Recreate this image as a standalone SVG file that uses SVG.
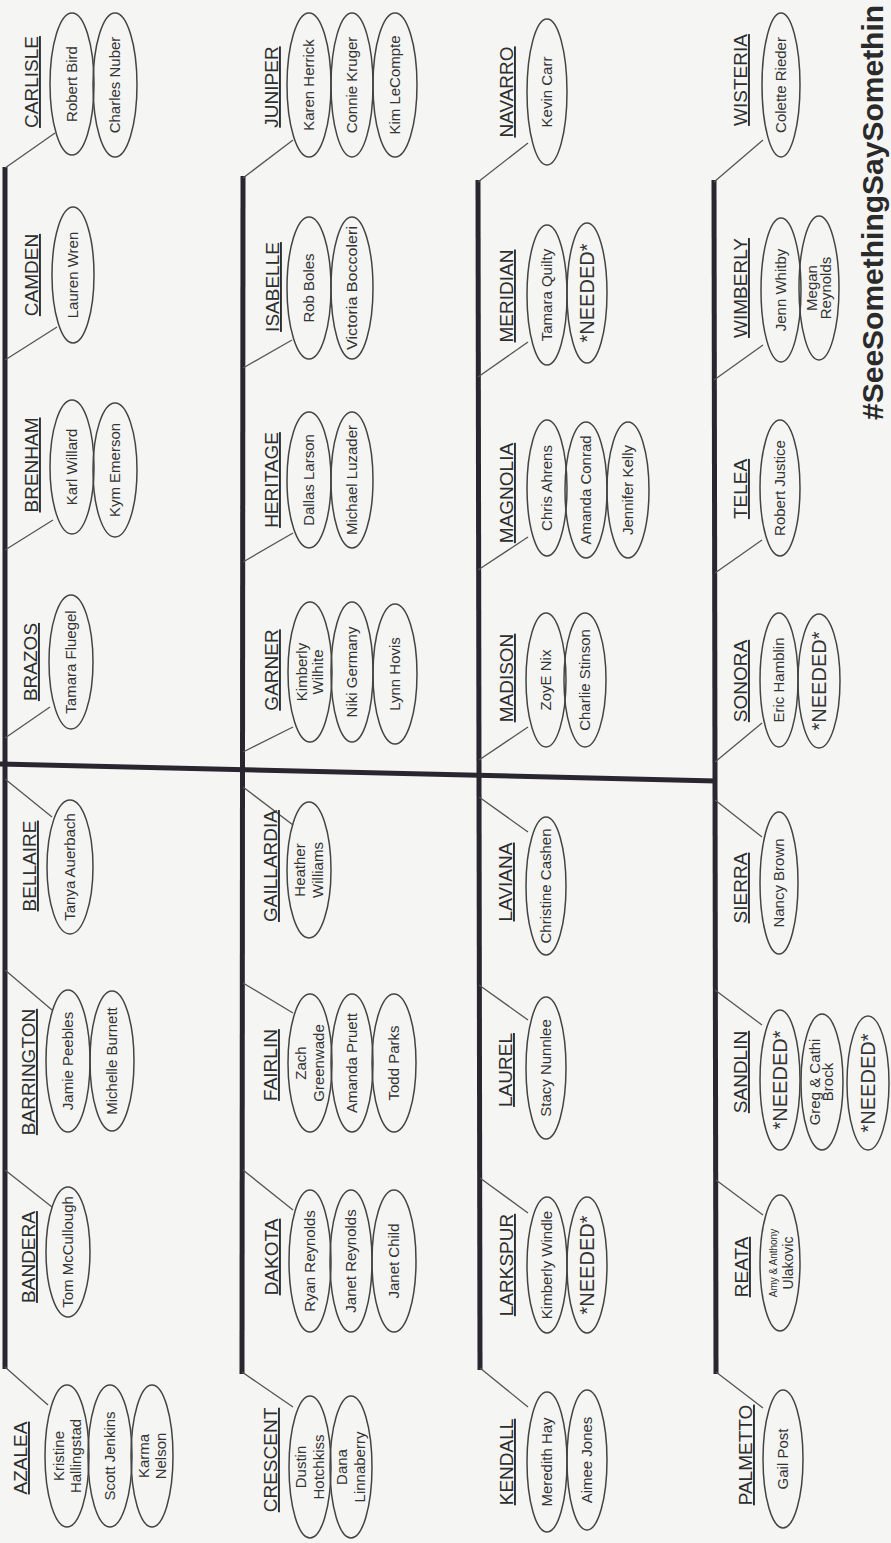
<svg xmlns="http://www.w3.org/2000/svg" width="891" height="1543" viewBox="0 0 891 1543">
<style>
.bg{fill:#f5f5f3}
.lbl{font-family:"Liberation Sans",Arial,sans-serif;font-size:19px;fill:#2e2e2e;text-decoration:underline;text-anchor:middle}
.nm{font-family:"Liberation Sans",Arial,sans-serif;font-size:15px;fill:#333;text-anchor:middle}
.nd{font-size:20px}
.el{fill:none;stroke:#444;stroke-width:1.5}
.sp{stroke:#2a2630;stroke-width:5;fill:none}
.cn{stroke:#555;stroke-width:1.3;fill:none}
.tag{font-family:"Liberation Sans",Arial,sans-serif;font-size:30px;font-weight:bold;fill:#2a2a2a}
</style>
<rect class="bg" x="0" y="0" width="891" height="1543"/>

<g id="connectors">
  <line class="sp" x1="5" y1="167" x2="5" y2="1369"/>
  <line class="sp" x1="243" y1="176" x2="242" y2="1374"/>
  <line class="sp" x1="478" y1="180" x2="480" y2="1370"/>
  <line class="sp" x1="714" y1="180" x2="716" y2="1374"/>
  <line class="sp" x1="0" y1="764" x2="716" y2="781"/>
  <line class="cn" x1="5" y1="168" x2="55" y2="133"/>
  <line class="cn" x1="5" y1="360" x2="57" y2="327"/>
  <line class="cn" x1="5" y1="550" x2="53" y2="520"/>
  <line class="cn" x1="5" y1="738" x2="50" y2="707"/>
  <line class="cn" x1="5" y1="779" x2="52" y2="817"/>
  <line class="cn" x1="5" y1="970" x2="52" y2="1010"/>
  <line class="cn" x1="5" y1="1170" x2="52" y2="1207"/>
  <line class="cn" x1="5" y1="1367" x2="48" y2="1405"/>
  <line class="cn" x1="243" y1="178" x2="293" y2="140"/>
  <line class="cn" x1="243" y1="368" x2="292" y2="340"/>
  <line class="cn" x1="243" y1="562" x2="293" y2="533"/>
  <line class="cn" x1="243" y1="752" x2="293" y2="727"/>
  <line class="cn" x1="243" y1="787" x2="293" y2="825"/>
  <line class="cn" x1="243" y1="983" x2="293" y2="1013"/>
  <line class="cn" x1="243" y1="1170" x2="293" y2="1210"/>
  <line class="cn" x1="242" y1="1372" x2="293" y2="1407"/>
  <line class="cn" x1="478" y1="182" x2="528" y2="143"/>
  <line class="cn" x1="478" y1="377" x2="528" y2="342"/>
  <line class="cn" x1="478" y1="570" x2="528" y2="537"/>
  <line class="cn" x1="479" y1="760" x2="528" y2="727"/>
  <line class="cn" x1="479" y1="797" x2="528" y2="832"/>
  <line class="cn" x1="479" y1="985" x2="528" y2="1020"/>
  <line class="cn" x1="480" y1="1178" x2="528" y2="1213"/>
  <line class="cn" x1="480" y1="1368" x2="528" y2="1407"/>
  <line class="cn" x1="714" y1="182" x2="763" y2="140"/>
  <line class="cn" x1="714" y1="380" x2="763" y2="345"/>
  <line class="cn" x1="715" y1="573" x2="762" y2="540"/>
  <line class="cn" x1="715" y1="762" x2="762" y2="723"/>
  <line class="cn" x1="715" y1="800" x2="762" y2="837"/>
  <line class="cn" x1="715" y1="990" x2="762" y2="1025"/>
  <line class="cn" x1="716" y1="1180" x2="763" y2="1215"/>
  <line class="cn" x1="716" y1="1372" x2="763" y2="1408"/>
</g>

<!-- Band 1 -->
<g id="carlisle">
  <text class="lbl" transform="translate(38,82) rotate(-90)">CARLISLE</text>
  <ellipse class="el" cx="72" cy="84" rx="22" ry="71"/>
  <ellipse class="el" cx="115" cy="85" rx="22" ry="72"/>
  <text class="nm" transform="translate(72,84) rotate(-90)" dy="0.36em" font-size="14">Robert Bird</text>
  <text class="nm" transform="translate(115,85) rotate(-90)" dy="0.36em" font-size="14">Charles Nuber</text>
</g>
<g id="camden">
  <text class="lbl" transform="translate(38,275) rotate(-90)">CAMDEN</text>
  <ellipse class="el" cx="73" cy="275" rx="21" ry="68"/>
  <text class="nm" transform="translate(73,275) rotate(-90)" dy="0.36em" font-size="14">Lauren Wren</text>
</g>
<g id="brenham">
  <text class="lbl" transform="translate(38,465) rotate(-90)">BRENHAM</text>
  <ellipse class="el" cx="72" cy="467" rx="22" ry="67"/>
  <ellipse class="el" cx="115" cy="470" rx="22" ry="67"/>
  <text class="nm" transform="translate(72,467) rotate(-90)" dy="0.36em">Karl Willard</text>
  <text class="nm" transform="translate(115,470) rotate(-90)" dy="0.36em">Kym Emerson</text>
</g>
<g id="brazos">
  <text class="lbl" transform="translate(37,662) rotate(-90)">BRAZOS</text>
  <ellipse class="el" cx="71" cy="662" rx="22" ry="67"/>
  <text class="nm" transform="translate(71,662) rotate(-90)" dy="0.36em">Tamara Fluegel</text>
</g>
<g id="bellaire">
  <text class="lbl" transform="translate(36,866) rotate(-90)">BELLAIRE</text>
  <ellipse class="el" cx="70" cy="867" rx="23" ry="67"/>
  <text class="nm" transform="translate(70,867) rotate(-90)" dy="0.36em" font-size="15.5">Tanya Auerbach</text>
</g>
<g id="barrington">
  <text class="lbl" transform="translate(35,1072) rotate(-90)">BARRINGTON</text>
  <ellipse class="el" cx="68" cy="1061" rx="22" ry="71"/>
  <ellipse class="el" cx="112" cy="1061" rx="22" ry="70"/>
  <text class="nm" transform="translate(68,1061) rotate(-90)" dy="0.36em" font-size="16">Jamie Peebles</text>
  <text class="nm" transform="translate(112,1061) rotate(-90)" dy="0.36em" font-size="16">Michelle Burnett</text>
</g>
<g id="bandera">
  <text class="lbl" transform="translate(35,1257) rotate(-90)">BANDERA</text>
  <ellipse class="el" cx="68" cy="1252" rx="22" ry="65"/>
  <text class="nm" transform="translate(68,1252) rotate(-90)" dy="0.36em" font-size="15.5">Tom McCullough</text>
</g>
<g id="azalea">
  <text class="lbl" transform="translate(27,1458) rotate(-90)">AZALEA</text>
  <ellipse class="el" cx="67" cy="1456" rx="22" ry="71"/>
  <ellipse class="el" cx="110" cy="1456" rx="22" ry="71"/>
  <ellipse class="el" cx="152" cy="1456" rx="21" ry="71"/>
  <text class="nm" transform="translate(67,1456) rotate(-90)"><tspan x="0" y="-3">Kristine</tspan><tspan x="0" y="14">Hallingstad</tspan></text>
  <text class="nm" transform="translate(110,1456) rotate(-90)" dy="0.36em" font-size="16">Scott Jenkins</text>
  <text class="nm" transform="translate(152,1456) rotate(-90)"><tspan x="0" y="-3">Karma</tspan><tspan x="0" y="14">Nelson</tspan></text>
</g>

<!-- Band 2 -->
<g id="juniper">
  <text class="lbl" transform="translate(278,87) rotate(-90)">JUNIPER</text>
  <ellipse class="el" cx="309" cy="85" rx="22" ry="72"/>
  <ellipse class="el" cx="352" cy="85" rx="21" ry="72"/>
  <ellipse class="el" cx="395" cy="85" rx="22" ry="72"/>
  <text class="nm" transform="translate(309,85) rotate(-90)" dy="0.36em" font-size="13">Karen Herrick</text>
  <text class="nm" transform="translate(352,85) rotate(-90)" dy="0.36em" font-size="13">Connie Kruger</text>
  <text class="nm" transform="translate(395,85) rotate(-90)" dy="0.36em" font-size="13">Kim LeCompte</text>
</g>
<g id="isabelle">
  <text class="lbl" transform="translate(279,287) rotate(-90)">ISABELLE</text>
  <ellipse class="el" cx="309" cy="288" rx="22" ry="71"/>
  <ellipse class="el" cx="352" cy="288" rx="21" ry="71"/>
  <text class="nm" transform="translate(309,288) rotate(-90)" dy="0.36em" font-size="14">Rob Boles</text>
  <text class="nm" transform="translate(352,288) rotate(-90)" dy="0.36em" font-size="14" textLength="124" lengthAdjust="spacingAndGlyphs">Victoria Boccoleri</text>
</g>
<g id="heritage">
  <text class="lbl" transform="translate(278,480) rotate(-90)">HERITAGE</text>
  <ellipse class="el" cx="309" cy="480" rx="22" ry="68"/>
  <ellipse class="el" cx="352" cy="480" rx="21" ry="68"/>
  <text class="nm" transform="translate(309,480) rotate(-90)" dy="0.36em">Dallas Larson</text>
  <text class="nm" transform="translate(352,480) rotate(-90)" dy="0.36em">Michael Luzader</text>
</g>
<g id="garner">
  <text class="lbl" transform="translate(278,670) rotate(-90)">GARNER</text>
  <ellipse class="el" cx="310" cy="672" rx="22" ry="70"/>
  <ellipse class="el" cx="352" cy="672" rx="21" ry="70"/>
  <ellipse class="el" cx="395" cy="674" rx="22" ry="70"/>
  <text class="nm" transform="translate(310,672) rotate(-90)" font-size="14"><tspan x="0" y="-3">Kimberly</tspan><tspan x="0" y="13">Wilhite</tspan></text>
  <text class="nm" transform="translate(352,672) rotate(-90)" dy="0.36em" font-size="16">Niki Germany</text>
  <text class="nm" transform="translate(395,674) rotate(-90)" dy="0.36em" font-size="16">Lynn Hovis</text>
</g>
<g id="gaillardia">
  <text class="lbl" transform="translate(277,866) rotate(-90)">GAILLARDIA</text>
  <ellipse class="el" cx="309" cy="870" rx="22" ry="68"/>
  <text class="nm" transform="translate(309,870) rotate(-90)" font-size="16"><tspan x="0" y="-4">Heather</tspan><tspan x="0" y="14">Williams</tspan></text>
</g>
<g id="fairlin">
  <text class="lbl" transform="translate(277,1065) rotate(-90)">FAIRLIN</text>
  <ellipse class="el" cx="310" cy="1063" rx="22" ry="69"/>
  <ellipse class="el" cx="352" cy="1063" rx="21" ry="69"/>
  <ellipse class="el" cx="394" cy="1063" rx="22" ry="69"/>
  <text class="nm" transform="translate(310,1063) rotate(-90)" font-size="16"><tspan x="0" y="-4">Zach</tspan><tspan x="0" y="14">Greenwade</tspan></text>
  <text class="nm" transform="translate(352,1063) rotate(-90)" dy="0.36em" font-size="16">Amanda Pruett</text>
  <text class="nm" transform="translate(394,1063) rotate(-90)" dy="0.36em" font-size="16">Todd Parks</text>
</g>
<g id="dakota">
  <text class="lbl" transform="translate(278,1257) rotate(-90)">DAKOTA</text>
  <ellipse class="el" cx="310" cy="1261" rx="21" ry="71"/>
  <ellipse class="el" cx="351" cy="1261" rx="21" ry="71"/>
  <ellipse class="el" cx="394" cy="1261" rx="22" ry="71"/>
  <text class="nm" transform="translate(310,1261) rotate(-90)" dy="0.36em" font-size="16">Ryan Reynolds</text>
  <text class="nm" transform="translate(351,1261) rotate(-90)" dy="0.36em" font-size="16">Janet Reynolds</text>
  <text class="nm" transform="translate(394,1261) rotate(-90)" dy="0.36em" font-size="16">Janet Child</text>
</g>
<g id="crescent">
  <text class="lbl" transform="translate(277,1460) rotate(-90)">CRESCENT</text>
  <ellipse class="el" cx="310" cy="1467" rx="21" ry="71"/>
  <ellipse class="el" cx="351" cy="1467" rx="21" ry="71"/>
  <text class="nm" transform="translate(310,1467) rotate(-90)" font-size="16"><tspan x="0" y="-4">Dustin</tspan><tspan x="0" y="14">Hotchkiss</tspan></text>
  <text class="nm" transform="translate(351,1467) rotate(-90)" font-size="16"><tspan x="0" y="-4">Dana</tspan><tspan x="0" y="14">Linnaberry</tspan></text>
</g>

<!-- Band 3 -->
<g id="navarro">
  <text class="lbl" transform="translate(513,92) rotate(-90)">NAVARRO</text>
  <ellipse class="el" cx="547" cy="92" rx="20" ry="73"/>
  <text class="nm" transform="translate(547,92) rotate(-90)" dy="0.36em" font-size="14">Kevin Carr</text>
</g>
<g id="meridian">
  <text class="lbl" transform="translate(513,296) rotate(-90)">MERIDIAN</text>
  <ellipse class="el" cx="547" cy="295" rx="20" ry="70"/>
  <ellipse class="el" cx="587" cy="293" rx="20" ry="70"/>
  <text class="nm" transform="translate(547,295) rotate(-90)" dy="0.36em" font-size="14">Tamara Quilty</text>
  <text class="nm nd" transform="translate(587,293) rotate(-90)" dy="0.36em">*NEEDED*</text>
</g>
<g id="magnolia">
  <text class="lbl" transform="translate(513,493) rotate(-90)">MAGNOLIA</text>
  <ellipse class="el" cx="547" cy="488" rx="20" ry="68"/>
  <ellipse class="el" cx="586" cy="490" rx="21" ry="68"/>
  <ellipse class="el" cx="628" cy="490" rx="21" ry="68"/>
  <text class="nm" transform="translate(547,488) rotate(-90)" dy="0.36em">Chris Ahrens</text>
  <text class="nm" transform="translate(586,490) rotate(-90)" dy="0.36em">Amanda Conrad</text>
  <text class="nm" transform="translate(628,490) rotate(-90)" dy="0.36em">Jennifer Kelly</text>
</g>
<g id="madison">
  <text class="lbl" transform="translate(513,678) rotate(-90)">MADISON</text>
  <ellipse class="el" cx="546" cy="680" rx="20" ry="67"/>
  <ellipse class="el" cx="585" cy="680" rx="21" ry="67"/>
  <text class="nm" transform="translate(546,680) rotate(-90)" dy="0.36em" font-size="16">ZoyE Nix</text>
  <text class="nm" transform="translate(585,680) rotate(-90)" dy="0.36em">Charlie Stinson</text>
</g>
<g id="laviana">
  <text class="lbl" transform="translate(512,882) rotate(-90)">LAVIANA</text>
  <ellipse class="el" cx="546" cy="886" rx="20" ry="69"/>
  <text class="nm" transform="translate(546,886) rotate(-90)" dy="0.36em">Christine Cashen</text>
</g>
<g id="laurel">
  <text class="lbl" transform="translate(512,1070) rotate(-90)">LAUREL</text>
  <ellipse class="el" cx="546" cy="1068" rx="20" ry="71"/>
  <text class="nm" transform="translate(546,1068) rotate(-90)" dy="0.36em" font-size="16">Stacy Nunnlee</text>
</g>
<g id="larkspur">
  <text class="lbl" transform="translate(513,1265) rotate(-90)">LARKSPUR</text>
  <ellipse class="el" cx="547" cy="1265" rx="20" ry="68"/>
  <ellipse class="el" cx="587" cy="1265" rx="20" ry="68"/>
  <text class="nm" transform="translate(547,1265) rotate(-90)" dy="0.36em">Kimberly Windle</text>
  <text class="nm nd" transform="translate(587,1265) rotate(-90)" dy="0.36em">*NEEDED*</text>
</g>
<g id="kendall">
  <text class="lbl" transform="translate(513,1462) rotate(-90)">KENDALL</text>
  <ellipse class="el" cx="547" cy="1462" rx="20" ry="70"/>
  <ellipse class="el" cx="587" cy="1460" rx="20" ry="70"/>
  <text class="nm" transform="translate(547,1462) rotate(-90)" dy="0.36em">Meredith Hay</text>
  <text class="nm" transform="translate(587,1460) rotate(-90)" dy="0.36em" font-size="16">Aimee Jones</text>
</g>

<!-- Band 4 -->
<g id="wisteria">
  <text class="lbl" transform="translate(747,80) rotate(-90)">WISTERIA</text>
  <ellipse class="el" cx="781" cy="85" rx="19" ry="72"/>
  <text class="nm" transform="translate(781,85) rotate(-90)" dy="0.36em" font-size="13">Colette Rieder</text>
</g>
<g id="wimberly">
  <text class="lbl" transform="translate(747,288) rotate(-90)">WIMBERLY</text>
  <ellipse class="el" cx="781" cy="290" rx="20" ry="72"/>
  <ellipse class="el" cx="819" cy="288" rx="20" ry="72"/>
  <text class="nm" transform="translate(781,290) rotate(-90)" dy="0.36em" font-size="13">Jenn Whitby</text>
  <text class="nm" transform="translate(819,288) rotate(-90)" font-size="13"><tspan x="0" y="-2">Megan</tspan><tspan x="0" y="12">Reynolds</tspan></text>
</g>
<g id="telea">
  <text class="lbl" transform="translate(747,489) rotate(-90)">TELEA</text>
  <ellipse class="el" cx="780" cy="488" rx="20" ry="68"/>
  <text class="nm" transform="translate(780,488) rotate(-90)" dy="0.36em">Robert Justice</text>
</g>
<g id="sonora">
  <text class="lbl" transform="translate(747,681) rotate(-90)">SONORA</text>
  <ellipse class="el" cx="779" cy="680" rx="19" ry="67"/>
  <ellipse class="el" cx="819" cy="681" rx="21" ry="67"/>
  <text class="nm" transform="translate(779,680) rotate(-90)" dy="0.36em">Eric Hamblin</text>
  <text class="nm nd" transform="translate(819,681) rotate(-90)" dy="0.36em">*NEEDED*</text>
</g>
<g id="sierra">
  <text class="lbl" transform="translate(747,888) rotate(-90)">SIERRA</text>
  <ellipse class="el" cx="779" cy="883" rx="19" ry="71"/>
  <text class="nm" transform="translate(779,883) rotate(-90)" dy="0.36em">Nancy Brown</text>
</g>
<g id="sandlin">
  <text class="lbl" transform="translate(747,1072) rotate(-90)">SANDLIN</text>
  <ellipse class="el" cx="780" cy="1080" rx="20" ry="70"/>
  <ellipse class="el" cx="822" cy="1082" rx="21" ry="68"/>
  <ellipse class="el" cx="868" cy="1083" rx="21" ry="67"/>
  <text class="nm nd" transform="translate(780,1080) rotate(-90)" dy="0.36em">*NEEDED*</text>
  <text class="nm" transform="translate(822,1082) rotate(-90)" font-size="13"><tspan x="0" y="-2">Greg &amp; Cathi</tspan><tspan x="0" y="11">Brock</tspan></text>
  <text class="nm nd" transform="translate(868,1083) rotate(-90)" dy="0.36em">*NEEDED*</text>
</g>
<g id="reata">
  <text class="lbl" transform="translate(748,1267) rotate(-90)">REATA</text>
  <ellipse class="el" cx="780" cy="1263" rx="20" ry="68"/>
  <text class="nm" transform="translate(780,1263) rotate(-90)"><tspan x="0" y="-3" font-size="10">Amy &amp; Anthony</tspan><tspan x="0" y="13" font-size="14">Ulakovic</tspan></text>
</g>
<g id="palmetto">
  <text class="lbl" transform="translate(752,1455) rotate(-90)">PALMETTO</text>
  <ellipse class="el" cx="783" cy="1459" rx="20" ry="69"/>
  <text class="nm" transform="translate(783,1459) rotate(-90)" dy="0.36em" font-size="16">Gail Post</text>
</g>

<text class="tag" transform="translate(883,420) rotate(-90)">#SeeSomethingSaySomethin</text>
</svg>
